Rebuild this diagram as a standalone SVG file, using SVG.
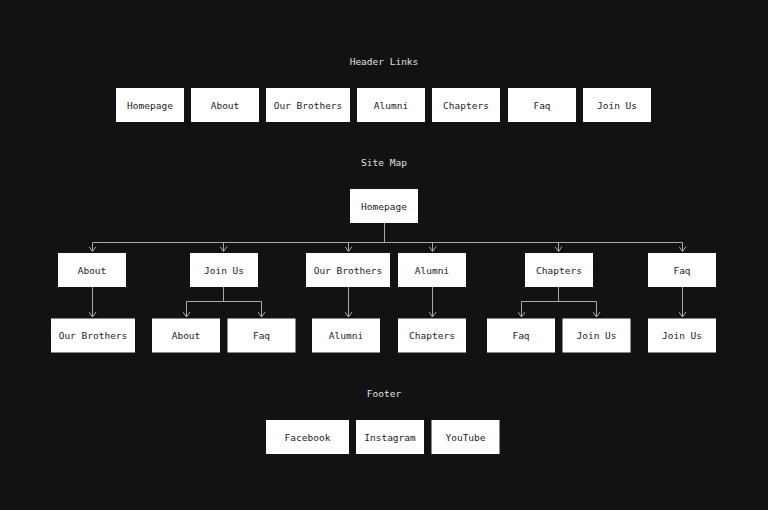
<svg xmlns="http://www.w3.org/2000/svg" width="768" height="510" viewBox="0 0 768 510">
<defs>
<style>
.bg{fill:#121212}
.box rect{fill:#ffffff}
.box text{font-family:"DejaVu Sans Mono","Liberation Mono",monospace;font-size:9.5px;fill:#222222;text-anchor:middle}
.title{font-family:"DejaVu Sans Mono","Liberation Mono",monospace;font-size:9.5px;fill:#e0e0e0;text-anchor:middle}
.conn path{fill:none;stroke:#a8a8a8;stroke-width:1}
</style>
<marker id="arr" viewBox="0 0 6 8" refX="5.5" refY="4" markerWidth="6" markerHeight="8" markerUnits="userSpaceOnUse" orient="auto">
<path d="M0.5,0.5 L5.5,4 L0.5,7.5" fill="none" stroke="#a8a8a8" stroke-width="1"/>
</marker>
</defs>
<rect class="bg" width="768" height="510"/>

<text class="title" x="384" y="64.5">Header Links</text>
<text class="title" x="384" y="165.5">Site Map</text>
<text class="title" x="384" y="396.5">Footer</text>

<g id="header">
<g id="h-homepage" class="box"><rect x="116" y="88" width="68" height="34"/><text x="150" y="108.5">Homepage</text></g>
<g id="h-about" class="box"><rect x="191" y="88" width="68" height="34"/><text x="225" y="108.5">About</text></g>
<g id="h-ourbrothers" class="box"><rect x="266" y="88" width="84" height="34"/><text x="308" y="108.5">Our Brothers</text></g>
<g id="h-alumni" class="box"><rect x="357" y="88" width="68" height="34"/><text x="391" y="108.5">Alumni</text></g>
<g id="h-chapters" class="box"><rect x="432" y="88" width="68" height="34"/><text x="466" y="108.5">Chapters</text></g>
<g id="h-faq" class="box"><rect x="508" y="88" width="68" height="34"/><text x="542" y="108.5">Faq</text></g>
<g id="h-joinus" class="box"><rect x="583" y="88" width="68" height="34"/><text x="617" y="108.5">Join Us</text></g>
</g>

<g id="connectors" class="conn">
<path d="M384.5,223 V242.5"/>
<path d="M92.5,242.5 H682.5"/>
<path d="M92.5,242.5 V251.5" marker-end="url(#arr)"/>
<path d="M223.5,242.5 V251.5" marker-end="url(#arr)"/>
<path d="M348.5,242.5 V251.5" marker-end="url(#arr)"/>
<path d="M432.5,242.5 V251.5" marker-end="url(#arr)"/>
<path d="M558.5,242.5 V251.5" marker-end="url(#arr)"/>
<path d="M682.5,242.5 V251.5" marker-end="url(#arr)"/>
<path d="M92.5,287 V317" marker-end="url(#arr)"/>
<path d="M223.5,287 V301.5"/>
<path d="M186.5,301.5 H261.5"/>
<path d="M186.5,301.5 V317" marker-end="url(#arr)"/>
<path d="M261.5,301.5 V317" marker-end="url(#arr)"/>
<path d="M348.5,287 V317" marker-end="url(#arr)"/>
<path d="M432.5,287 V317" marker-end="url(#arr)"/>
<path d="M558.5,287 V301.5"/>
<path d="M521.5,301.5 H596.5"/>
<path d="M521.5,301.5 V317" marker-end="url(#arr)"/>
<path d="M596.5,301.5 V317" marker-end="url(#arr)"/>
<path d="M682.5,287 V317" marker-end="url(#arr)"/>
</g>

<g id="sitemap">
<g id="s-homepage" class="box"><rect x="350" y="189" width="68" height="34"/><text x="384" y="209.5">Homepage</text></g>
<g id="s-about" class="box"><rect x="58" y="253" width="68" height="34"/><text x="92" y="273.5">About</text></g>
<g id="s-joinus" class="box"><rect x="190" y="253" width="68" height="34"/><text x="224" y="273.5">Join Us</text></g>
<g id="s-ourbrothers" class="box"><rect x="306" y="253" width="84" height="34"/><text x="348" y="273.5">Our Brothers</text></g>
<g id="s-alumni" class="box"><rect x="398" y="253" width="68" height="34"/><text x="432" y="273.5">Alumni</text></g>
<g id="s-chapters" class="box"><rect x="525" y="253" width="68" height="34"/><text x="559" y="273.5">Chapters</text></g>
<g id="s-faq" class="box"><rect x="648" y="253" width="68" height="34"/><text x="682" y="273.5">Faq</text></g>
<g id="s-about-ourbrothers" class="box"><rect x="51" y="318.5" width="84" height="34"/><text x="93" y="339">Our Brothers</text></g>
<g id="s-joinus-about" class="box"><rect x="152" y="318.5" width="68" height="34"/><text x="186" y="339">About</text></g>
<g id="s-joinus-faq" class="box"><rect x="227.5" y="318.5" width="68" height="34"/><text x="261.5" y="339">Faq</text></g>
<g id="s-ourbrothers-alumni" class="box"><rect x="312" y="318.5" width="68" height="34"/><text x="346" y="339">Alumni</text></g>
<g id="s-alumni-chapters" class="box"><rect x="398" y="318.5" width="68" height="34"/><text x="432" y="339">Chapters</text></g>
<g id="s-chapters-faq" class="box"><rect x="487" y="318.5" width="68" height="34"/><text x="521" y="339">Faq</text></g>
<g id="s-chapters-joinus" class="box"><rect x="562.5" y="318.5" width="68" height="34"/><text x="596.5" y="339">Join Us</text></g>
<g id="s-faq-joinus" class="box"><rect x="648" y="318.5" width="68" height="34"/><text x="682" y="339">Join Us</text></g>
</g>

<g id="footer">
<g id="f-facebook" class="box"><rect x="266" y="420" width="83" height="34"/><text x="307.5" y="440.5">Facebook</text></g>
<g id="f-instagram" class="box"><rect x="356" y="420" width="68" height="34"/><text x="390" y="440.5">Instagram</text></g>
<g id="f-youtube" class="box"><rect x="431.5" y="420" width="68" height="34"/><text x="465.5" y="440.5">YouTube</text></g>
</g>
</svg>
